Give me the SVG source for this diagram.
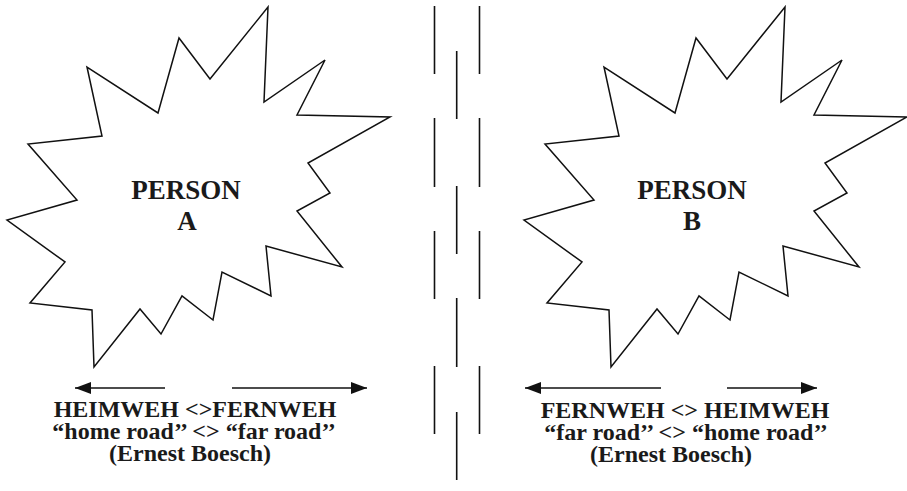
<svg xmlns="http://www.w3.org/2000/svg" width="907" height="491" viewBox="0 0 907 491">
  <rect width="907" height="491" fill="#fff"/>
  <defs>
    <!-- explosion outline, drawn once and placed for each person -->
    <polygon id="burst" points="268,7 264,102 325,60 297,115 390,117 308,163 330,193 297,211 342,267 266,246 271,296 222,272 213,320 182,296 161,334 140,309 94,367 92,310 30,303 65,262 7,220 77,200 28,144 102,136 87,67 158,113 179,38 210,79" fill="#fff" stroke="#111" stroke-width="1.5"/>
    <marker id="head" viewBox="0 0 16 12" refX="16" refY="6" markerWidth="16" markerHeight="12" markerUnits="userSpaceOnUse" orient="auto-start-reverse">
      <path d="M0,0 L16,6 L0,12 Z" fill="#111"/>
    </marker>
  </defs>

  <!-- Person A -->
  <g id="person-a" font-family="Liberation Serif, serif" font-weight="bold" font-size="27" fill="#1a1a1a" text-anchor="middle">
    <use href="#burst"/>
    <text x="186" y="199" style="font-family: 'Liberation Serif', serif !important">PERSON</text>
    <text x="187" y="230" style="font-family: 'Liberation Serif', serif !important">A</text>
  </g>

  <!-- Person B -->
  <g id="person-b" font-family="Liberation Serif, serif" font-weight="bold" font-size="27" fill="#1a1a1a" text-anchor="middle">
    <use href="#burst" transform="translate(517,0)"/>
    <text x="692" y="199" style="font-family: 'Liberation Serif', serif !important">PERSON</text>
    <text x="692" y="230" style="font-family: 'Liberation Serif', serif !important">B</text>
  </g>

  <!-- road between the two: three broken lane lines -->
  <g id="road" stroke="#111" stroke-width="1.6" fill="none">
    <path d="M434.5,6 V74 M434.5,118 V187 M434.5,231 V299 M434.5,366 V434"/>
    <path d="M456.7,51 V119 M456.7,186 V254 M456.7,298 V367 M456.7,412 V480"/>
    <path d="M479.5,6 V74 M479.5,118 V187 M479.5,231 V299 M479.5,366 V434"/>
  </g>

  <!-- direction arrows -->
  <g id="connectors" stroke="#111" stroke-width="1.6" fill="none">
    <line x1="165" y1="388" x2="75" y2="388" marker-end="url(#head)"/>
    <line x1="232" y1="388" x2="367" y2="388" marker-end="url(#head)"/>
    <line x1="661" y1="388" x2="525" y2="388" marker-end="url(#head)"/>
    <line x1="727" y1="388" x2="817" y2="388" marker-end="url(#head)"/>
  </g>

  <!-- captions -->
  <g id="caption-a" font-family="Liberation Serif, serif" font-weight="bold" font-size="24" fill="#1a1a1a" text-anchor="middle">
    <text x="195" y="417" style="font-family: 'Liberation Serif', serif !important">HEIMWEH &lt;&gt;FERNWEH</text>
    <text x="194" y="439" style="font-family: 'Liberation Serif', serif !important">&#8220;home road&#8217;&#8217; &lt;&gt; &#8220;far road&#8217;&#8217;</text>
    <text x="190" y="461" style="font-family: 'Liberation Serif', serif !important">(Ernest Boesch)</text>
  </g>
  <g id="caption-b" font-family="Liberation Serif, serif" font-weight="bold" font-size="24" fill="#1a1a1a" text-anchor="middle">
    <text x="685" y="418" style="font-family: 'Liberation Serif', serif !important">FERNWEH &lt;&gt; HEIMWEH</text>
    <text x="686" y="440" style="font-family: 'Liberation Serif', serif !important">&#8220;far road&#8217;&#8217; &lt;&gt; &#8220;home road&#8217;&#8217;</text>
    <text x="671" y="462" style="font-family: 'Liberation Serif', serif !important">(Ernest Boesch)</text>
  </g>
</svg>
